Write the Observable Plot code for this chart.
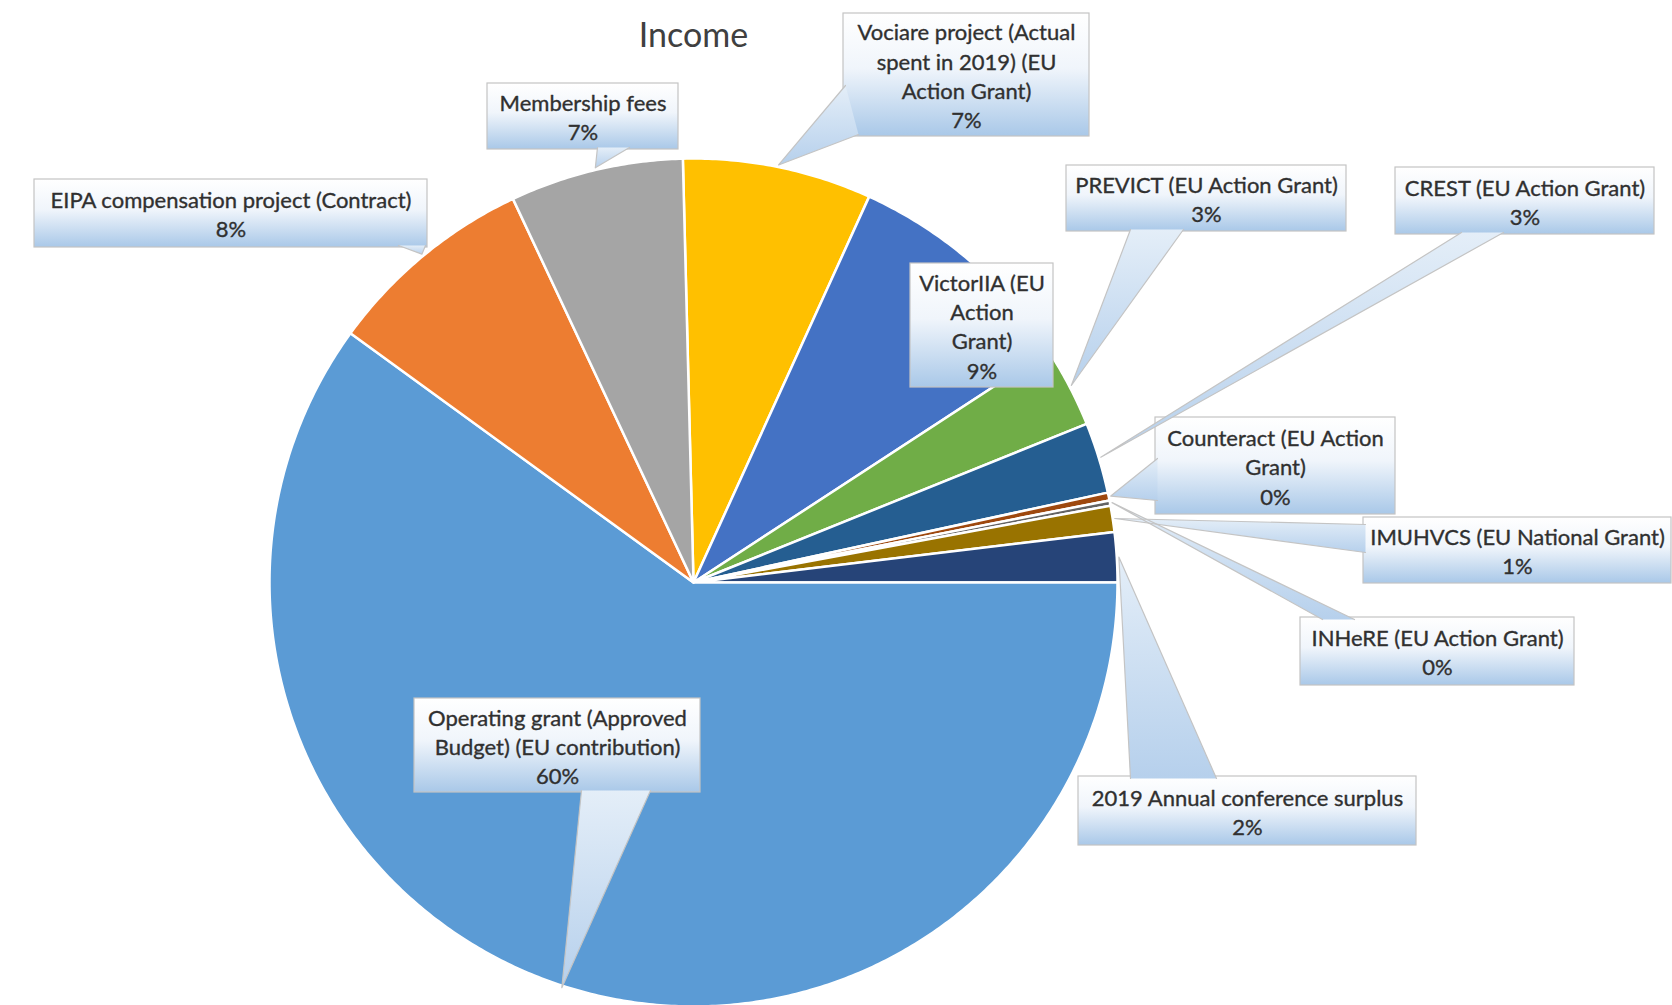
<!DOCTYPE html>
<html>
<head>
<meta charset="utf-8">
<script src="https://cdn.jsdelivr.net/npm/d3@7"></script>
<script src="https://cdn.jsdelivr.net/npm/@observablehq/plot@0.6"></script>
<style>
  html, body { margin: 0; padding: 0; background: #ffffff; }
  #chart { width: 1672px; height: 1005px; overflow: hidden; }
</style>
</head>
<body>
<div id="chart"></div>
<script>
// ---------- DATA ----------
const names = [
  "Vociare project (Actual\nspent in 2019) (EU\nAction Grant)",
  "VictorIIA (EU\nAction\nGrant)",
  "PREVICT (EU Action Grant)",
  "CREST (EU Action Grant)",
  "Counteract (EU Action\nGrant)",
  "INHeRE (EU Action Grant)",
  "IMUHVCS (EU National Grant)",
  "2019 Annual conference surplus",
  "Operating grant (Approved\nBudget) (EU contribution)",
  "EIPA compensation project (Contract)",
  "Membership fees"
];
const values = [7.2, 9.0, 3.1, 2.7, 0.3, 0.2, 1.0, 1.9, 60.0, 8.0, 6.6];
const colors = ["#FFC000", "#4472C4", "#70AD47", "#255E91", "#9E480E", "#636363",
                "#997300", "#264478", "#5B9BD5", "#ED7D31", "#A5A5A5"];
const title = "Income";

// ---------- LAYOUT (positions/sizes, in page pixels) ----------
const W = 1672, H = 1005;
const PIE = {cx: 693, cy: 582, r: 424, start: -1.44};
// callout boxes [x1, y1, x2, y2] and wedge base points (null = no wedge)
const boxes = [
  {box: [843, 13, 1089, 136],  base: [[845, 85], [858, 134]]},
  {box: [910, 263, 1053, 387], base: null},
  {box: [1066, 165, 1346, 231], base: [[1130, 229], [1183, 229]]},
  {box: [1395, 167, 1654, 234], base: [[1461, 232], [1503, 232]]},
  {box: [1155, 417, 1395, 514], base: [[1157, 458], [1157, 500]]},
  {box: [1300, 617, 1574, 685], base: [[1322, 619], [1354, 619]]},
  {box: [1363, 517, 1671, 583], base: [[1365, 524], [1365, 552]]},
  {box: [1078, 776, 1416, 845], base: [[1130, 778], [1216, 778]]},
  {box: [414, 698, 700, 792],  base: [[581, 790], [650, 790]]},
  {box: [34, 179, 427, 247],   base: [[398, 245], [425, 245]]},
  {box: [487, 83, 678, 149],   base: [[597, 147], [629, 147]]}
];

// ---------- build slices ----------
const total = d3.sum(values);
const rad = d => d * Math.PI / 180;
const pt = (a, r) => [PIE.cx + r * Math.sin(rad(a)), PIE.cy - r * Math.cos(rad(a))];

let acc = PIE.start;
const slices = values.map((v, i) => {
  const a0 = acc, a1 = acc + v / total * 360;
  acc = a1;
  return {name: names[i], value: v, a0, a1, mid: (a0 + a1) / 2,
          pct: Math.round(v / total * 100) + "%"};
});

const slicePts = [];
for (const s of slices) {
  slicePts.push({name: s.name, x: PIE.cx, y: PIE.cy});
  const n = Math.max(2, Math.ceil((s.a1 - s.a0) / 0.5) + 1);
  for (let k = 0; k < n; k++) {
    const a = s.a0 + (s.a1 - s.a0) * k / (n - 1);
    const [x, y] = pt(a, PIE.r);
    slicePts.push({name: s.name, x, y});
  }
}

const labels = slices.map((s, i) => {
  const b = boxes[i].box;
  return {name: s.name, text: s.name + "\n" + s.pct,
          x1: b[0], y1: b[1], x2: b[2], y2: b[3],
          cx: (b[0] + b[2]) / 2, cy: (b[1] + b[3]) / 2};
});

const wedgePts = [];
slices.forEach((s, i) => {
  const base = boxes[i].base;
  if (!base) return;
  const [tx, ty] = pt(s.mid, PIE.r * 1.005);
  wedgePts.push({name: s.name, x: base[0][0], y: base[0][1]});
  wedgePts.push({name: s.name, x: tx, y: ty});
  wedgePts.push({name: s.name, x: base[1][0], y: base[1][1]});
});

const font = "Lato, 'Open Sans', sans-serif";

const svg = Plot.plot({
  width: W, height: H, margin: 0,
  x: {domain: [0, W], range: [0, W], axis: null},
  y: {domain: [0, H], range: [0, H], axis: null},
  color: {domain: names, range: colors},
  style: {background: "#ffffff", fontFamily: font},
  marks: [
    Plot.line(slicePts, {x: "x", y: "y", z: "name", fill: "name", stroke: "white",
      strokeWidth: 2.5, strokeLinejoin: "round", curve: "linear-closed"}),
    Plot.rect(labels, {x1: "x1", x2: "x2", y1: "y1", y2: "y2",
      fill: "url(#cg)", stroke: "#c4c4c4", strokeWidth: 1.2}),
    Plot.line(wedgePts, {x: "x", y: "y", z: "name", fill: "url(#cgw)", stroke: "none",
      curve: "linear-closed"}),
    Plot.line(wedgePts, {x: "x", y: "y", z: "name", stroke: "#c4c4c4", strokeWidth: 1.2}),
    Plot.text(labels, {x: "cx", y: "cy", text: "text", fontSize: 22, lineHeight: 1.33,
      fill: "#303030", stroke: "#303030", strokeWidth: 0.35, fontFamily: font,
      textAnchor: "middle", lineAnchor: "middle"}),
    Plot.text([title], {frameAnchor: "top", dx: PIE.cx - W / 2, dy: 36, text: d => d,
      fontSize: 34, fill: "#404040", fontFamily: font, lineAnchor: "middle"})
  ]
});

d3.select(svg).insert("defs", ":first-child").html(`
  <linearGradient id="cg" x1="0" y1="0" x2="0" y2="1">
    <stop offset="0" stop-color="#ffffff"/>
    <stop offset="0.45" stop-color="#f0f5fb"/>
    <stop offset="1" stop-color="#a9c8e8"/>
  </linearGradient>
  <linearGradient id="cgw" x1="0" y1="0" x2="0" y2="1">
    <stop offset="0" stop-color="#e4eef8"/>
    <stop offset="1" stop-color="#b6d0ec"/>
  </linearGradient>`);

document.getElementById("chart").appendChild(svg);
</script>
</body>
</html>
